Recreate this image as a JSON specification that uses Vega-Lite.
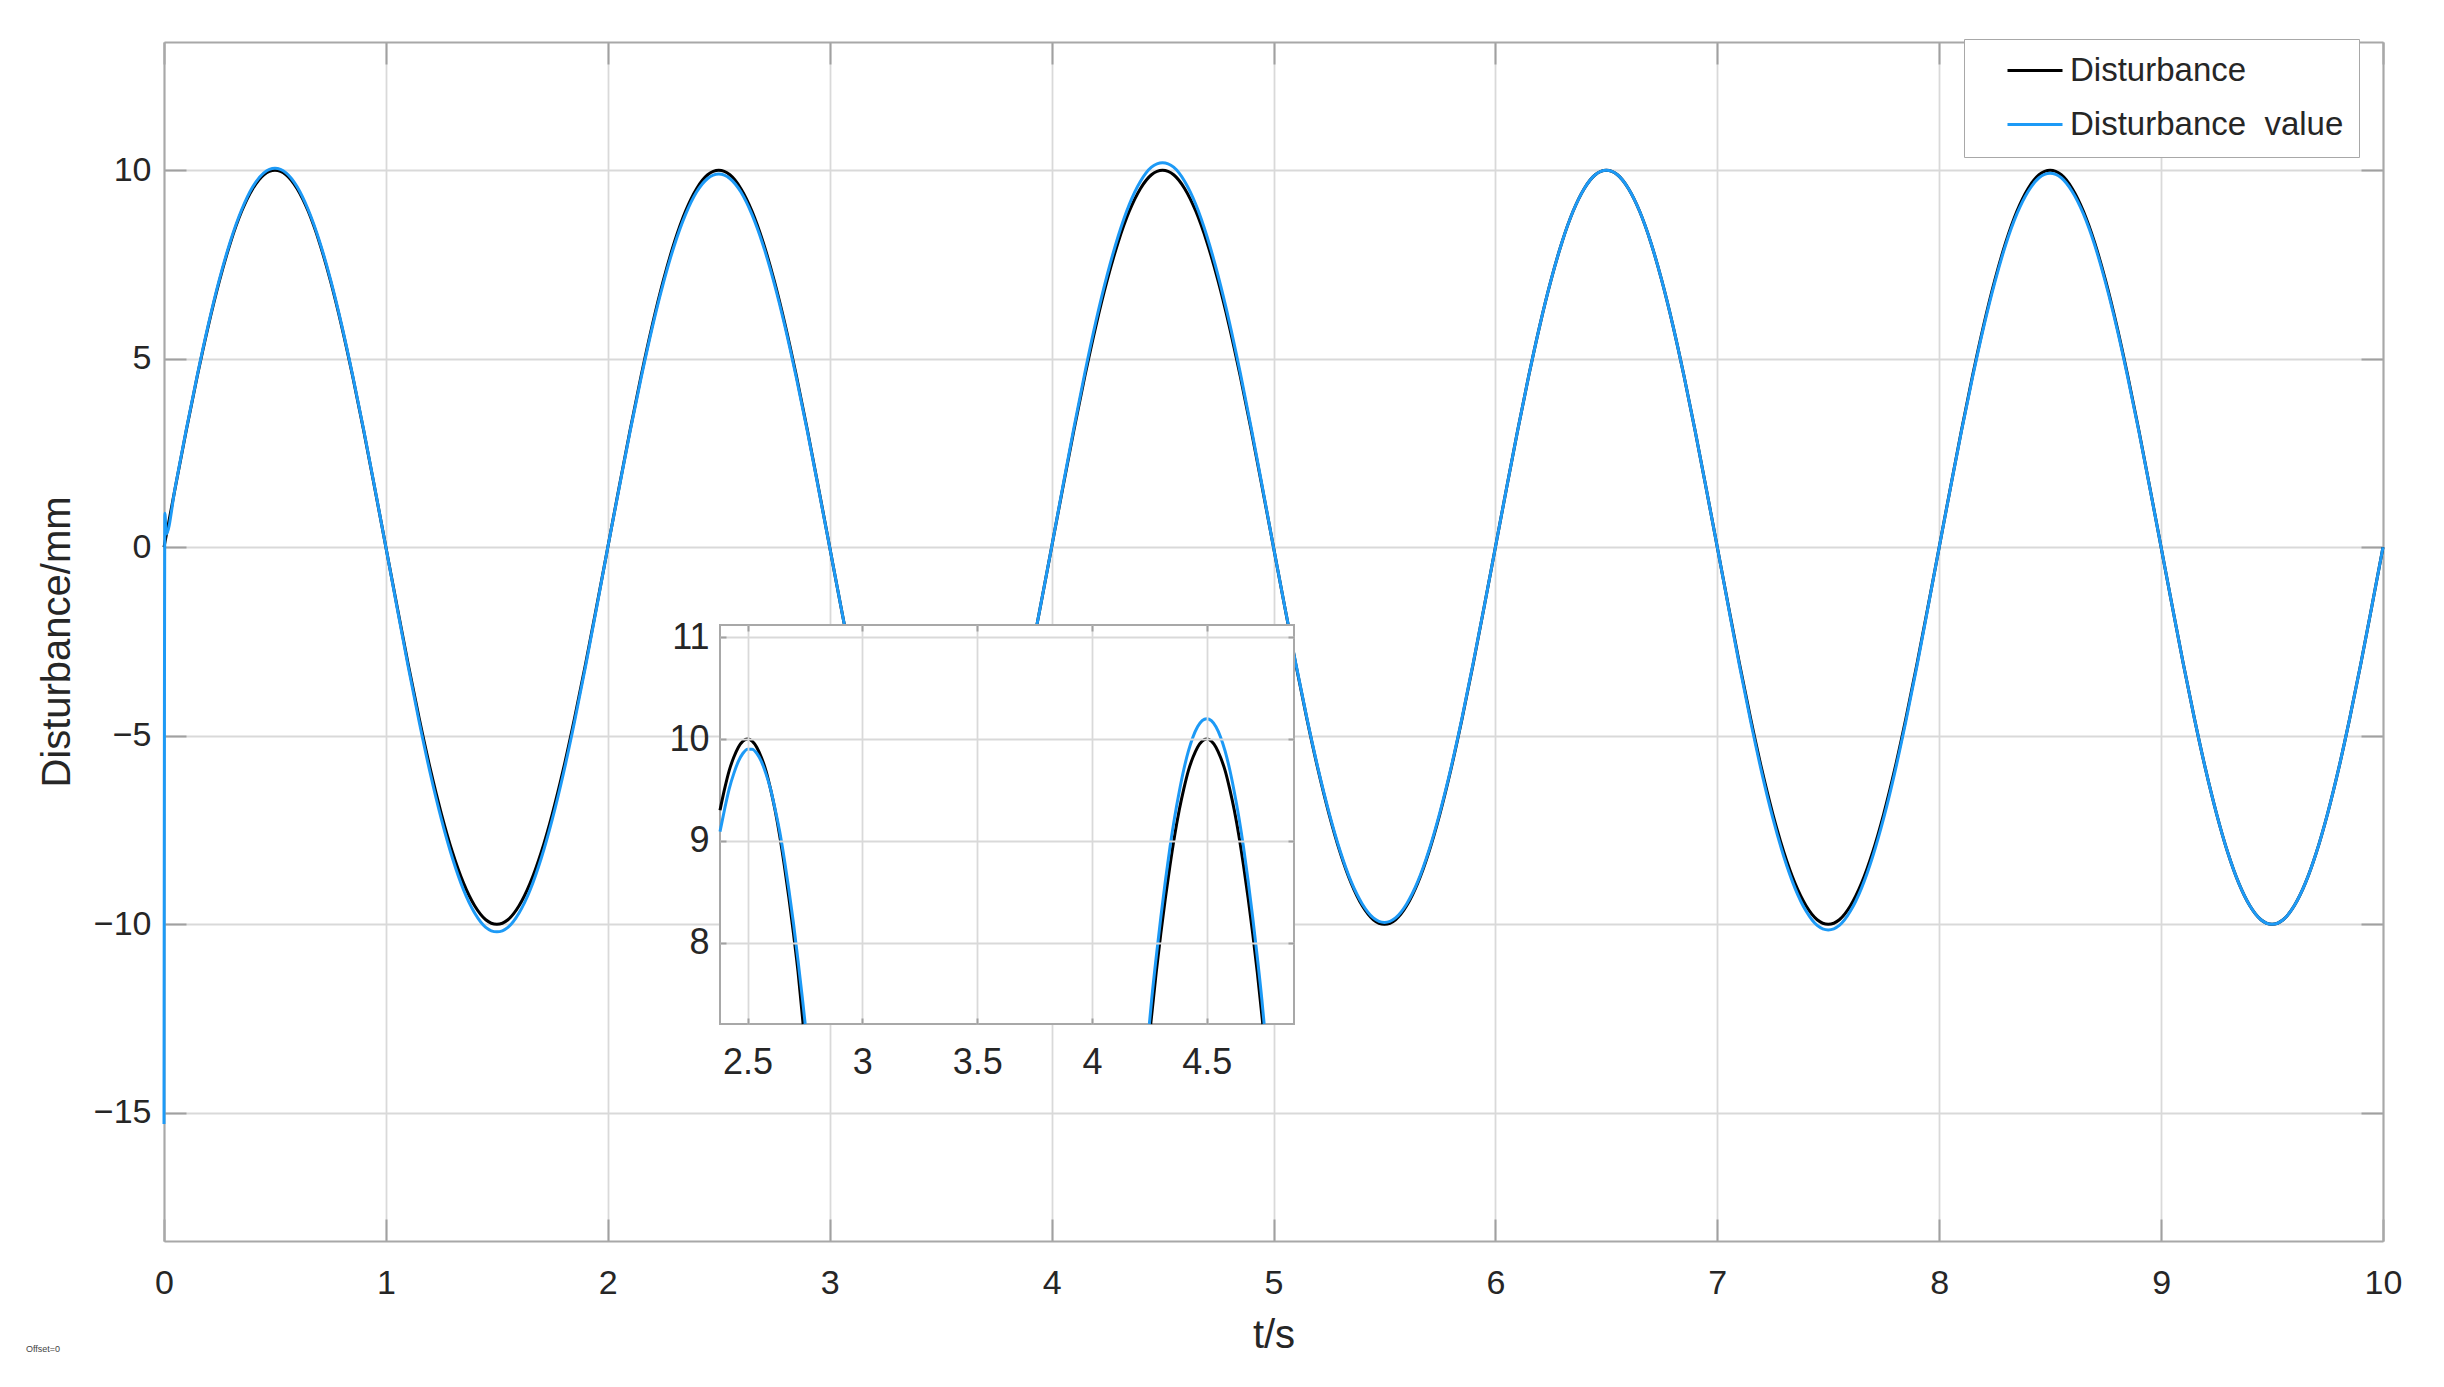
{
"$schema":"https://vega.github.io/schema/vega-lite/v6.json",
"width":2219,"height":1199,
"autosize":{"type":"none"},
"padding":{"left":164,"top":42,"right":61,"bottom":146},
"background":"white",
"config":{
 "font":"Liberation Sans",
 "view":{"stroke":null},
 "axis":{"labelFont":"Liberation Sans","titleFont":"Liberation Sans","labelColor":"#262626","titleColor":"#262626","labelFontSize":34,"titleFontSize":40,"titleFontWeight":"normal","domainColor":"#a8a8a8","domainWidth":2,"tickColor":"#a0a0a0","tickWidth":2,"gridColor":"#d9d9d9","gridWidth":1.8,"gridOpacity":1,"labelOverlap":false,"labelFlush":false,"labelBound":false}
},
"title":{"text":"Offset=0","orient":"bottom","anchor":"start","frame":"group","fontSize":9,"fontWeight":"normal","color":"#444444","font":"Liberation Sans","offset":-10,"dx":-138},
"datasets":{
"black":[
{"t":0,"v":0},{"t":0.05,"v":1.56},{"t":0.1,"v":3.09},{"t":0.15,"v":4.54},{"t":0.2,"v":5.88},{"t":0.25,"v":7.07},{"t":0.3,"v":8.09},{"t":0.35,"v":8.91},{"t":0.4,"v":9.51},{"t":0.45,"v":9.88},{"t":0.5,"v":10},{"t":0.55,"v":9.88},{"t":0.6,"v":9.51},{"t":0.65,"v":8.91},{"t":0.7,"v":8.09},{"t":0.75,"v":7.07},{"t":0.8,"v":5.88},{"t":0.85,"v":4.54},{"t":0.9,"v":3.09},{"t":0.95,"v":1.56},
{"t":1,"v":0},{"t":1.05,"v":-1.56},{"t":1.1,"v":-3.09},{"t":1.15,"v":-4.54},{"t":1.2,"v":-5.88},{"t":1.25,"v":-7.07},{"t":1.3,"v":-8.09},{"t":1.35,"v":-8.91},{"t":1.4,"v":-9.51},{"t":1.45,"v":-9.88},{"t":1.5,"v":-10},{"t":1.55,"v":-9.88},{"t":1.6,"v":-9.51},{"t":1.65,"v":-8.91},{"t":1.7,"v":-8.09},{"t":1.75,"v":-7.07},{"t":1.8,"v":-5.88},{"t":1.85,"v":-4.54},{"t":1.9,"v":-3.09},{"t":1.95,"v":-1.56},
{"t":2,"v":0},{"t":2.05,"v":1.56},{"t":2.1,"v":3.09},{"t":2.15,"v":4.54},{"t":2.2,"v":5.88},{"t":2.25,"v":7.07},{"t":2.3,"v":8.09},{"t":2.35,"v":8.91},{"t":2.4,"v":9.51},{"t":2.45,"v":9.88},{"t":2.5,"v":10},{"t":2.55,"v":9.88},{"t":2.6,"v":9.51},{"t":2.65,"v":8.91},{"t":2.7,"v":8.09},{"t":2.75,"v":7.07},{"t":2.8,"v":5.88},{"t":2.85,"v":4.54},{"t":2.9,"v":3.09},{"t":2.95,"v":1.56},
{"t":3,"v":0},{"t":3.05,"v":-1.56},{"t":3.1,"v":-3.09},{"t":3.15,"v":-4.54},{"t":3.2,"v":-5.88},{"t":3.25,"v":-7.07},{"t":3.3,"v":-8.09},{"t":3.35,"v":-8.91},{"t":3.4,"v":-9.51},{"t":3.45,"v":-9.88},{"t":3.5,"v":-10},{"t":3.55,"v":-9.88},{"t":3.6,"v":-9.51},{"t":3.65,"v":-8.91},{"t":3.7,"v":-8.09},{"t":3.75,"v":-7.07},{"t":3.8,"v":-5.88},{"t":3.85,"v":-4.54},{"t":3.9,"v":-3.09},{"t":3.95,"v":-1.56},
{"t":4,"v":0},{"t":4.05,"v":1.56},{"t":4.1,"v":3.09},{"t":4.15,"v":4.54},{"t":4.2,"v":5.88},{"t":4.25,"v":7.07},{"t":4.3,"v":8.09},{"t":4.35,"v":8.91},{"t":4.4,"v":9.51},{"t":4.45,"v":9.88},{"t":4.5,"v":10},{"t":4.55,"v":9.88},{"t":4.6,"v":9.51},{"t":4.65,"v":8.91},{"t":4.7,"v":8.09},{"t":4.75,"v":7.07},{"t":4.8,"v":5.88},{"t":4.85,"v":4.54},{"t":4.9,"v":3.09},{"t":4.95,"v":1.56},
{"t":5,"v":0},{"t":5.05,"v":-1.56},{"t":5.1,"v":-3.09},{"t":5.15,"v":-4.54},{"t":5.2,"v":-5.88},{"t":5.25,"v":-7.07},{"t":5.3,"v":-8.09},{"t":5.35,"v":-8.91},{"t":5.4,"v":-9.51},{"t":5.45,"v":-9.88},{"t":5.5,"v":-10},{"t":5.55,"v":-9.88},{"t":5.6,"v":-9.51},{"t":5.65,"v":-8.91},{"t":5.7,"v":-8.09},{"t":5.75,"v":-7.07},{"t":5.8,"v":-5.88},{"t":5.85,"v":-4.54},{"t":5.9,"v":-3.09},{"t":5.95,"v":-1.56},
{"t":6,"v":0},{"t":6.05,"v":1.56},{"t":6.1,"v":3.09},{"t":6.15,"v":4.54},{"t":6.2,"v":5.88},{"t":6.25,"v":7.07},{"t":6.3,"v":8.09},{"t":6.35,"v":8.91},{"t":6.4,"v":9.51},{"t":6.45,"v":9.88},{"t":6.5,"v":10},{"t":6.55,"v":9.88},{"t":6.6,"v":9.51},{"t":6.65,"v":8.91},{"t":6.7,"v":8.09},{"t":6.75,"v":7.07},{"t":6.8,"v":5.88},{"t":6.85,"v":4.54},{"t":6.9,"v":3.09},{"t":6.95,"v":1.56},
{"t":7,"v":0},{"t":7.05,"v":-1.56},{"t":7.1,"v":-3.09},{"t":7.15,"v":-4.54},{"t":7.2,"v":-5.88},{"t":7.25,"v":-7.07},{"t":7.3,"v":-8.09},{"t":7.35,"v":-8.91},{"t":7.4,"v":-9.51},{"t":7.45,"v":-9.88},{"t":7.5,"v":-10},{"t":7.55,"v":-9.88},{"t":7.6,"v":-9.51},{"t":7.65,"v":-8.91},{"t":7.7,"v":-8.09},{"t":7.75,"v":-7.07},{"t":7.8,"v":-5.88},{"t":7.85,"v":-4.54},{"t":7.9,"v":-3.09},{"t":7.95,"v":-1.56},
{"t":8,"v":0},{"t":8.05,"v":1.56},{"t":8.1,"v":3.09},{"t":8.15,"v":4.54},{"t":8.2,"v":5.88},{"t":8.25,"v":7.07},{"t":8.3,"v":8.09},{"t":8.35,"v":8.91},{"t":8.4,"v":9.51},{"t":8.45,"v":9.88},{"t":8.5,"v":10},{"t":8.55,"v":9.88},{"t":8.6,"v":9.51},{"t":8.65,"v":8.91},{"t":8.7,"v":8.09},{"t":8.75,"v":7.07},{"t":8.8,"v":5.88},{"t":8.85,"v":4.54},{"t":8.9,"v":3.09},{"t":8.95,"v":1.56},
{"t":9,"v":0},{"t":9.05,"v":-1.56},{"t":9.1,"v":-3.09},{"t":9.15,"v":-4.54},{"t":9.2,"v":-5.88},{"t":9.25,"v":-7.07},{"t":9.3,"v":-8.09},{"t":9.35,"v":-8.91},{"t":9.4,"v":-9.51},{"t":9.45,"v":-9.88},{"t":9.5,"v":-10},{"t":9.55,"v":-9.88},{"t":9.6,"v":-9.51},{"t":9.65,"v":-8.91},{"t":9.7,"v":-8.09},{"t":9.75,"v":-7.07},{"t":9.8,"v":-5.88},{"t":9.85,"v":-4.54},{"t":9.9,"v":-3.09},{"t":9.95,"v":-1.56},
{"t":10,"v":0}
],
"blue":[
{"t":0,"v":-15.3},{"t":0.004,"v":0.9},{"t":0.01,"v":0.35},{"t":0.05,"v":1.57},{"t":0.1,"v":3.11},{"t":0.15,"v":4.56},{"t":0.2,"v":5.91},{"t":0.25,"v":7.11},{"t":0.3,"v":8.13},{"t":0.35,"v":8.95},{"t":0.4,"v":9.56},{"t":0.45,"v":9.93},{"t":0.5,"v":10.05},{"t":0.55,"v":9.93},{"t":0.6,"v":9.56},{"t":0.65,"v":8.95},{"t":0.7,"v":8.13},{"t":0.75,"v":7.11},{"t":0.8,"v":5.91},{"t":0.85,"v":4.56},{"t":0.9,"v":3.11},{"t":0.95,"v":1.57},
{"t":1,"v":0},{"t":1.05,"v":-1.59},{"t":1.1,"v":-3.15},{"t":1.15,"v":-4.63},{"t":1.2,"v":-6.0},{"t":1.25,"v":-7.21},{"t":1.3,"v":-8.25},{"t":1.35,"v":-9.09},{"t":1.4,"v":-9.7},{"t":1.45,"v":-10.08},{"t":1.5,"v":-10.2},{"t":1.55,"v":-10.08},{"t":1.6,"v":-9.7},{"t":1.65,"v":-9.09},{"t":1.7,"v":-8.25},{"t":1.75,"v":-7.21},{"t":1.8,"v":-6.0},{"t":1.85,"v":-4.63},{"t":1.9,"v":-3.15},{"t":1.95,"v":-1.59},
{"t":2,"v":0},{"t":2.05,"v":1.54},{"t":2.1,"v":3.06},{"t":2.15,"v":4.49},{"t":2.2,"v":5.82},{"t":2.25,"v":7.0},{"t":2.3,"v":8.01},{"t":2.35,"v":8.82},{"t":2.4,"v":9.42},{"t":2.45,"v":9.78},{"t":2.5,"v":9.9},{"t":2.55,"v":9.78},{"t":2.6,"v":9.42},{"t":2.65,"v":8.82},{"t":2.7,"v":8.01},{"t":2.75,"v":7.0},{"t":2.8,"v":5.82},{"t":2.85,"v":4.49},{"t":2.9,"v":3.06},{"t":2.95,"v":1.54},
{"t":3,"v":0},{"t":3.05,"v":-1.56},{"t":3.1,"v":-3.09},{"t":3.15,"v":-4.54},{"t":3.2,"v":-5.88},{"t":3.25,"v":-7.07},{"t":3.3,"v":-8.09},{"t":3.35,"v":-8.91},{"t":3.4,"v":-9.51},{"t":3.45,"v":-9.88},{"t":3.5,"v":-10},{"t":3.55,"v":-9.88},{"t":3.6,"v":-9.51},{"t":3.65,"v":-8.91},{"t":3.7,"v":-8.09},{"t":3.75,"v":-7.07},{"t":3.8,"v":-5.88},{"t":3.85,"v":-4.54},{"t":3.9,"v":-3.09},{"t":3.95,"v":-1.56},
{"t":4,"v":0},{"t":4.05,"v":1.59},{"t":4.1,"v":3.15},{"t":4.15,"v":4.63},{"t":4.2,"v":6.0},{"t":4.25,"v":7.21},{"t":4.3,"v":8.25},{"t":4.35,"v":9.09},{"t":4.4,"v":9.7},{"t":4.45,"v":10.08},{"t":4.5,"v":10.2},{"t":4.55,"v":10.08},{"t":4.6,"v":9.7},{"t":4.65,"v":9.09},{"t":4.7,"v":8.25},{"t":4.75,"v":7.21},{"t":4.8,"v":6.0},{"t":4.85,"v":4.63},{"t":4.9,"v":3.15},{"t":4.95,"v":1.59},
{"t":5,"v":0},{"t":5.05,"v":-1.56},{"t":5.1,"v":-3.07},{"t":5.15,"v":-4.52},{"t":5.2,"v":-5.85},{"t":5.25,"v":-7.03},{"t":5.3,"v":-8.05},{"t":5.35,"v":-8.87},{"t":5.4,"v":-9.46},{"t":5.45,"v":-9.83},{"t":5.5,"v":-9.95},{"t":5.55,"v":-9.83},{"t":5.6,"v":-9.46},{"t":5.65,"v":-8.87},{"t":5.7,"v":-8.05},{"t":5.75,"v":-7.03},{"t":5.8,"v":-5.85},{"t":5.85,"v":-4.52},{"t":5.9,"v":-3.07},{"t":5.95,"v":-1.56},
{"t":6,"v":0},{"t":6.05,"v":1.56},{"t":6.1,"v":3.09},{"t":6.15,"v":4.54},{"t":6.2,"v":5.88},{"t":6.25,"v":7.07},{"t":6.3,"v":8.09},{"t":6.35,"v":8.91},{"t":6.4,"v":9.51},{"t":6.45,"v":9.88},{"t":6.5,"v":10},{"t":6.55,"v":9.88},{"t":6.6,"v":9.51},{"t":6.65,"v":8.91},{"t":6.7,"v":8.09},{"t":6.75,"v":7.07},{"t":6.8,"v":5.88},{"t":6.85,"v":4.54},{"t":6.9,"v":3.09},{"t":6.95,"v":1.56},
{"t":7,"v":0},{"t":7.05,"v":-1.58},{"t":7.1,"v":-3.14},{"t":7.15,"v":-4.61},{"t":7.2,"v":-5.97},{"t":7.25,"v":-7.18},{"t":7.3,"v":-8.21},{"t":7.35,"v":-9.04},{"t":7.4,"v":-9.65},{"t":7.45,"v":-10.03},{"t":7.5,"v":-10.15},{"t":7.55,"v":-10.03},{"t":7.6,"v":-9.65},{"t":7.65,"v":-9.04},{"t":7.7,"v":-8.21},{"t":7.75,"v":-7.18},{"t":7.8,"v":-5.97},{"t":7.85,"v":-4.61},{"t":7.9,"v":-3.14},{"t":7.95,"v":-1.58},
{"t":8,"v":0},{"t":8.05,"v":1.55},{"t":8.1,"v":3.07},{"t":8.15,"v":4.5},{"t":8.2,"v":5.83},{"t":8.25,"v":7.01},{"t":8.3,"v":8.03},{"t":8.35,"v":8.84},{"t":8.4,"v":9.43},{"t":8.45,"v":9.8},{"t":8.5,"v":9.92},{"t":8.55,"v":9.8},{"t":8.6,"v":9.43},{"t":8.65,"v":8.84},{"t":8.7,"v":8.03},{"t":8.75,"v":7.01},{"t":8.8,"v":5.83},{"t":8.85,"v":4.5},{"t":8.9,"v":3.07},{"t":8.95,"v":1.55},
{"t":9,"v":0},{"t":9.05,"v":-1.56},{"t":9.1,"v":-3.09},{"t":9.15,"v":-4.54},{"t":9.2,"v":-5.88},{"t":9.25,"v":-7.07},{"t":9.3,"v":-8.09},{"t":9.35,"v":-8.91},{"t":9.4,"v":-9.51},{"t":9.45,"v":-9.88},{"t":9.5,"v":-10},{"t":9.55,"v":-9.88},{"t":9.6,"v":-9.51},{"t":9.65,"v":-8.91},{"t":9.7,"v":-8.09},{"t":9.75,"v":-7.07},{"t":9.8,"v":-5.88},{"t":9.85,"v":-4.54},{"t":9.9,"v":-3.09},{"t":9.95,"v":-1.56},
{"t":10,"v":0}
],
"iblack":[
{"p":1,"t":2.38,"v":9.3},{"p":1,"t":2.4,"v":9.51},{"p":1,"t":2.42,"v":9.69},{"p":1,"t":2.44,"v":9.82},{"p":1,"t":2.46,"v":9.92},{"p":1,"t":2.48,"v":9.98},{"p":1,"t":2.5,"v":10},{"p":1,"t":2.52,"v":9.98},{"p":1,"t":2.54,"v":9.92},{"p":1,"t":2.56,"v":9.82},{"p":1,"t":2.58,"v":9.69},{"p":1,"t":2.6,"v":9.51},{"p":1,"t":2.62,"v":9.3},{"p":1,"t":2.64,"v":9.05},{"p":1,"t":2.66,"v":8.76},{"p":1,"t":2.68,"v":8.44},{"p":1,"t":2.7,"v":8.09},{"p":1,"t":2.72,"v":7.71},{"p":1,"t":2.742,"v":7.2},
{"p":2,"t":4.256,"v":7.2},{"p":2,"t":4.28,"v":7.71},{"p":2,"t":4.3,"v":8.09},{"p":2,"t":4.32,"v":8.44},{"p":2,"t":4.34,"v":8.76},{"p":2,"t":4.36,"v":9.05},{"p":2,"t":4.38,"v":9.3},{"p":2,"t":4.4,"v":9.51},{"p":2,"t":4.42,"v":9.69},{"p":2,"t":4.44,"v":9.82},{"p":2,"t":4.46,"v":9.92},{"p":2,"t":4.48,"v":9.98},{"p":2,"t":4.5,"v":10},{"p":2,"t":4.52,"v":9.98},{"p":2,"t":4.54,"v":9.92},{"p":2,"t":4.56,"v":9.82},{"p":2,"t":4.58,"v":9.69},{"p":2,"t":4.6,"v":9.51},{"p":2,"t":4.62,"v":9.3},{"p":2,"t":4.64,"v":9.05},{"p":2,"t":4.66,"v":8.76},{"p":2,"t":4.68,"v":8.44},{"p":2,"t":4.7,"v":8.09},{"p":2,"t":4.72,"v":7.71},{"p":2,"t":4.744,"v":7.2}
],
"iblue":[
{"p":1,"t":2.38,"v":9.09},{"p":1,"t":2.4,"v":9.31},{"p":1,"t":2.42,"v":9.51},{"p":1,"t":2.44,"v":9.66},{"p":1,"t":2.46,"v":9.78},{"p":1,"t":2.48,"v":9.86},{"p":1,"t":2.5,"v":9.9},{"p":1,"t":2.52,"v":9.9},{"p":1,"t":2.54,"v":9.86},{"p":1,"t":2.56,"v":9.78},{"p":1,"t":2.58,"v":9.66},{"p":1,"t":2.6,"v":9.51},{"p":1,"t":2.62,"v":9.31},{"p":1,"t":2.64,"v":9.09},{"p":1,"t":2.66,"v":8.82},{"p":1,"t":2.68,"v":8.52},{"p":1,"t":2.7,"v":8.19},{"p":1,"t":2.72,"v":7.82},{"p":1,"t":2.74,"v":7.43},{"p":1,"t":2.751,"v":7.2},
{"p":2,"t":4.25,"v":7.2},{"p":2,"t":4.26,"v":7.44},{"p":2,"t":4.28,"v":7.86},{"p":2,"t":4.3,"v":8.25},{"p":2,"t":4.32,"v":8.61},{"p":2,"t":4.34,"v":8.94},{"p":2,"t":4.36,"v":9.23},{"p":2,"t":4.38,"v":9.48},{"p":2,"t":4.4,"v":9.7},{"p":2,"t":4.42,"v":9.88},{"p":2,"t":4.44,"v":10.02},{"p":2,"t":4.46,"v":10.12},{"p":2,"t":4.48,"v":10.18},{"p":2,"t":4.5,"v":10.2},{"p":2,"t":4.52,"v":10.18},{"p":2,"t":4.54,"v":10.12},{"p":2,"t":4.56,"v":10.02},{"p":2,"t":4.58,"v":9.88},{"p":2,"t":4.6,"v":9.7},{"p":2,"t":4.62,"v":9.48},{"p":2,"t":4.64,"v":9.23},{"p":2,"t":4.66,"v":8.94},{"p":2,"t":4.68,"v":8.61},{"p":2,"t":4.7,"v":8.25},{"p":2,"t":4.72,"v":7.86},{"p":2,"t":4.74,"v":7.44},{"p":2,"t":4.75,"v":7.2}
]
},
"layer":[
 {
  "layer":[
   {
    "data":{"name":"black"},
    "mark":{"type":"line","strokeWidth":3,"interpolate":"monotone"},
    "encoding":{
     "x":{"field":"t","type":"quantitative","scale":{"domain":[0,10],"nice":false,"zero":false},
      "axis":{"orient":"bottom","values":[0,1,2,3,4,5,6,7,8,9,10],"format":"d","title":"t/s","grid":true,"tickSize":-22,"labelPadding":47,"titlePadding":15}},
     "y":{"field":"v","type":"quantitative","scale":{"domain":[-18.4,13.4],"nice":false,"zero":false},
      "axis":{"orient":"left","values":[-15,-10,-5,0,5,10],"format":"d","title":"Disturbance/mm","grid":true,"tickSize":-22,"labelPadding":35,"titlePadding":16}},
     "color":{"datum":"Disturbance","scale":{"domain":["Disturbance","Disturbance\u00a0 value"],"range":["#000000","#1d9af6"]},
      "legend":{"title":null,"orient":"none","legendX":1800,"legendY":-3,"symbolType":"stroke","symbolSize":3025,"symbolStrokeWidth":3,"labelFontSize":33,"labelColor":"#262626","labelFont":"Liberation Sans","padding":15,"symbolOffset":27,"rowPadding":20,"fillColor":"white","strokeColor":"#a8a8a8","labelOffset":6,"labelLimit":0,"clipHeight":33,"zindex":1}}
    }
   },
   {
    "data":{"name":"blue"},
    "mark":{"type":"line","strokeWidth":3,"interpolate":"monotone"},
    "encoding":{
     "x":{"field":"t","type":"quantitative",
      "axis":{"orient":"top","values":[0,1,2,3,4,5,6,7,8,9,10],"labels":false,"grid":false,"title":null,"tickSize":-22}},
     "y":{"field":"v","type":"quantitative",
      "axis":{"orient":"right","values":[-15,-10,-5,0,5,10],"labels":false,"grid":false,"title":null,"tickSize":-22}},
     "color":{"datum":"Disturbance\u00a0 value"}
    }
   }
  ],
  "resolve":{"axis":{"x":"independent","y":"independent"}}
 },
 {
  "layer":[
   {
    "data":{"values":[{}]},
    "mark":{"type":"rect","fill":"white","stroke":"#a8a8a8","strokeWidth":2},
    "encoding":{
     "x":{"datum":2.38,"type":"quantitative","scale":{"domain":[2.38,4.88],"range":[556,1130],"nice":false,"zero":false},
      "axis":{"orient":"top","offset":-583,"values":[2.5,3,3.5,4,4.5],"labels":false,"grid":true,"domain":false,"tickSize":-6,"title":null,"zindex":1}},
     "x2":{"datum":4.88},
     "y":{"datum":7.2,"type":"quantitative","scale":{"domain":[7.2,11.12],"range":[982,583],"nice":false,"zero":false},
      "axis":{"orient":"left","offset":-556,"values":[8,9,10,11],"format":"d","grid":true,"domain":false,"tickSize":-6,"labelPadding":17,"labelFontSize":36,"title":null,"zindex":1}},
     "y2":{"datum":11.12}
    }
   },
   {
    "data":{"name":"iblack"},
    "mark":{"type":"line","color":"#000000","strokeWidth":3,"interpolate":"monotone"},
    "encoding":{
     "x":{"field":"t","type":"quantitative",
      "axis":{"orient":"bottom","offset":-217,"values":[2.5,3,3.5,4,4.5],"format":"~g","grid":false,"domain":false,"tickSize":-6,"labelPadding":27,"labelFontSize":36,"title":null,"zindex":1}},
     "y":{"field":"v","type":"quantitative",
      "axis":{"orient":"right","offset":-1089,"values":[8,9,10,11],"labels":false,"grid":false,"domain":false,"tickSize":-6,"title":null,"zindex":1}},
     "detail":{"field":"p"}
    }
   },
   {
    "data":{"name":"iblue"},
    "mark":{"type":"line","color":"#1d9af6","strokeWidth":3,"interpolate":"monotone"},
    "encoding":{
     "x":{"field":"t","type":"quantitative","axis":null},
     "y":{"field":"v","type":"quantitative","axis":null},
     "detail":{"field":"p"}
    }
   }
  ],
  "resolve":{"axis":{"x":"independent","y":"independent"}}
 }
],
"resolve":{"scale":{"x":"independent","y":"independent"},"axis":{"x":"independent","y":"independent"}}
}
